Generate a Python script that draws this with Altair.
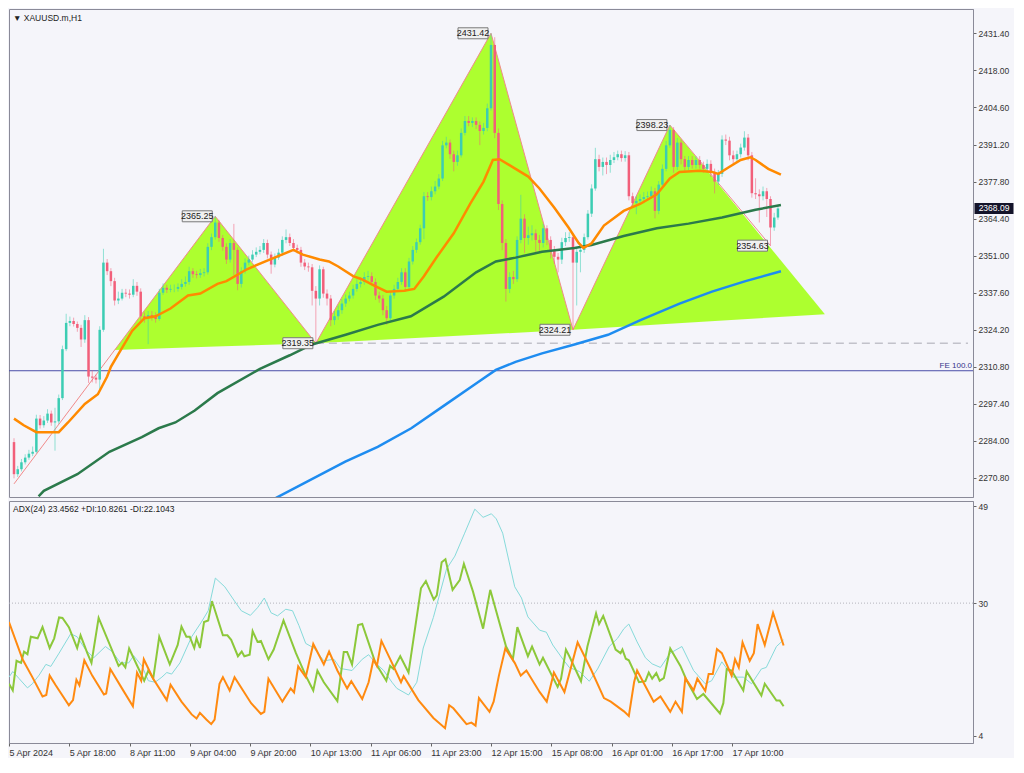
import altair as alt
import pandas as pd

# ---------------- price data (XAUUSD H1) ----------------
first_open = 2283.6
closes = [
    2272.0, 2273.8, 2276.3, 2278.0, 2279.4, 2280.1, 2292.1, 2289.7, 2291.4, 2293.9,
    2290.7, 2291.1, 2299.5, 2317.2, 2326.7, 2327.4, 2326.3, 2324.9, 2320.7, 2327.7,
    2307.3, 2306.9, 2306.2, 2324.2, 2348.5, 2345.4, 2341.8, 2334.8, 2335.5, 2337.6,
    2337.3, 2336.9, 2340.1, 2338.0, 2329.1, 2328.4, 2329.5, 2329.1, 2328.1, 2337.6,
    2339.4, 2338.7, 2339.0, 2339.0, 2339.7, 2340.8, 2341.5, 2345.4, 2344.3, 2344.0,
    2344.7, 2345.0, 2354.2, 2357.7, 2363.0, 2357.4, 2354.2, 2349.6, 2355.6, 2353.1,
    2340.8, 2345.4, 2348.5, 2349.6, 2351.4, 2352.4, 2353.1, 2355.6, 2351.4, 2347.8,
    2350.3, 2352.1, 2356.7, 2357.7, 2355.6, 2353.8, 2353.1, 2348.5, 2347.1, 2346.8,
    2338.3, 2335.5, 2346.1, 2337.3, 2335.5, 2327.7, 2329.1, 2331.3, 2333.7, 2335.5,
    2336.6, 2339.0, 2340.8, 2341.5, 2343.3, 2343.6, 2341.5, 2336.6, 2335.5, 2331.3,
    2328.4, 2336.6, 2339.0, 2341.5, 2345.0, 2339.7, 2348.9, 2353.1, 2355.9, 2360.9,
    2372.5, 2372.2, 2374.3, 2376.0, 2378.9, 2390.9, 2391.9, 2387.7, 2384.9, 2387.3,
    2395.4, 2399.7, 2399.0, 2399.7, 2398.3, 2396.1, 2397.2, 2404.3, 2427.2, 2395.4,
    2369.7, 2355.6, 2339.0, 2343.3, 2342.5, 2356.7, 2364.4, 2357.4, 2358.4, 2359.1,
    2356.7, 2355.6, 2360.9, 2356.7, 2353.1, 2350.6, 2349.6, 2355.9, 2357.4, 2357.7,
    2348.5, 2352.4, 2353.1, 2357.7, 2366.2, 2375.3, 2385.9, 2383.1, 2384.9, 2383.8,
    2385.6, 2386.6, 2387.7, 2386.3, 2387.3, 2372.5, 2370.0, 2370.8, 2371.5, 2372.2,
    2372.5, 2374.3, 2367.2, 2376.7, 2382.4, 2390.9, 2396.5, 2383.1, 2391.9, 2385.9,
    2383.1, 2385.6, 2383.8, 2385.6, 2383.8, 2382.4, 2384.2, 2381.3, 2377.8, 2380.6,
    2393.0, 2392.6, 2387.3, 2385.9, 2387.7, 2390.1, 2393.7, 2387.3, 2373.6, 2373.2,
    2372.5, 2374.3, 2371.5, 2361.2, 2364.8, 2368.09,
]
highs = [
    2285.0, 2275.0, 2277.5, 2279.2, 2280.8, 2282.0, 2293.5, 2293.4, 2293.0, 2295.5,
    2295.0, 2296.0, 2300.8, 2318.5, 2330.0, 2329.0, 2328.6, 2327.2, 2326.0, 2329.5,
    2328.8, 2309.5, 2308.0, 2325.5, 2353.5, 2349.8, 2346.5, 2343.0, 2338.0, 2339.0,
    2339.0, 2338.8, 2342.5, 2341.5, 2339.2, 2330.5, 2331.0, 2331.0, 2330.5, 2339.0,
    2341.0, 2340.5, 2340.5, 2340.6, 2341.0, 2342.5, 2343.5, 2347.0, 2346.5, 2345.5,
    2346.2, 2346.5, 2355.5, 2359.0, 2365.25, 2364.0, 2358.5, 2355.5, 2357.0, 2362.5,
    2354.0, 2346.8, 2350.0, 2351.0, 2353.0, 2354.0, 2354.5, 2357.0, 2356.8, 2352.5,
    2351.8, 2353.5, 2358.0, 2360.5, 2359.0, 2357.0, 2355.0, 2354.2, 2349.8, 2348.5,
    2348.0, 2340.0, 2347.5, 2347.0, 2338.8, 2336.8, 2331.0, 2333.0, 2335.2, 2337.0,
    2338.0, 2340.5, 2342.5, 2343.2, 2345.0, 2345.5, 2345.0, 2342.8, 2338.0, 2336.8,
    2332.8, 2338.0, 2340.5, 2343.0, 2346.5, 2346.5, 2350.2, 2354.5, 2357.2, 2362.2,
    2374.0, 2374.0, 2376.0, 2378.0, 2380.5, 2392.5, 2394.0, 2393.0, 2389.0, 2389.0,
    2397.0, 2401.5, 2401.5, 2401.0, 2401.0, 2399.5, 2399.0, 2406.0, 2431.42, 2430.0,
    2397.0, 2371.0, 2357.0, 2345.0, 2345.5, 2358.0, 2373.0, 2366.0, 2361.5, 2362.0,
    2360.5, 2358.5, 2362.5, 2362.0, 2358.0, 2354.5, 2352.0, 2357.5, 2359.5, 2359.5,
    2359.0, 2354.0, 2355.0, 2359.0, 2367.5, 2376.8, 2390.0, 2387.5, 2386.5, 2386.5,
    2387.5, 2388.5, 2389.0, 2389.0, 2388.8, 2388.5, 2373.8, 2372.5, 2373.2, 2374.0,
    2374.2, 2376.0, 2375.5, 2378.0, 2384.0, 2392.5, 2398.23, 2397.5, 2393.5, 2393.0,
    2387.0, 2387.0, 2387.0, 2387.0, 2387.0, 2385.0, 2385.8, 2385.5, 2382.5, 2382.0,
    2394.5, 2394.8, 2394.0, 2389.0, 2389.0, 2391.5, 2396.0, 2395.0, 2388.5, 2379.0,
    2375.0, 2376.0, 2375.5, 2372.5, 2366.5, 2369.0,
]
lows = [
    2270.5, 2271.0, 2273.0, 2275.5, 2277.2, 2278.5, 2279.5, 2288.5, 2288.8, 2290.5,
    2289.5, 2280.5, 2290.2, 2298.8, 2316.5, 2325.5, 2325.4, 2323.5, 2318.0, 2319.5,
    2305.0, 2305.2, 2304.8, 2302.8, 2323.5, 2344.0, 2340.0, 2333.0, 2333.5, 2334.8,
    2336.0, 2335.5, 2336.0, 2336.5, 2327.5, 2326.8, 2319.0, 2327.5, 2326.8, 2327.5,
    2336.8, 2337.5, 2337.8, 2337.8, 2338.0, 2338.8, 2339.8, 2340.5, 2343.0, 2342.8,
    2343.0, 2343.5, 2344.2, 2353.0, 2356.8, 2356.0, 2352.8, 2348.0, 2348.5, 2344.0,
    2338.5, 2339.5, 2344.5, 2347.5, 2348.8, 2350.5, 2351.5, 2352.0, 2350.0, 2344.5,
    2346.8, 2349.5, 2351.0, 2355.5, 2354.5, 2352.5, 2351.8, 2347.0, 2345.8, 2345.2,
    2333.0, 2319.35, 2333.0, 2335.8, 2333.0, 2325.5, 2326.0, 2327.8, 2330.0, 2332.5,
    2334.5, 2335.5, 2338.0, 2339.5, 2340.5, 2342.0, 2340.2, 2335.0, 2334.0, 2329.5,
    2326.0, 2327.5, 2335.5, 2338.0, 2340.5, 2338.0, 2338.8, 2347.8, 2352.0, 2355.0,
    2357.0, 2370.8, 2371.0, 2373.2, 2375.0, 2378.0, 2389.8, 2386.0, 2381.5, 2383.5,
    2386.5, 2394.5, 2397.8, 2397.5, 2396.8, 2391.0, 2394.8, 2396.0, 2403.5, 2393.5,
    2367.5, 2353.0, 2334.4, 2337.5, 2340.8, 2341.5, 2355.5, 2352.0, 2355.0, 2356.5,
    2352.0, 2352.5, 2354.0, 2354.8, 2350.0, 2348.0, 2345.0, 2348.0, 2354.5, 2356.0,
    2324.21, 2333.0, 2345.0, 2352.0, 2356.8, 2365.0, 2374.5, 2381.5, 2380.0, 2380.5,
    2381.0, 2384.5, 2385.5, 2385.0, 2385.0, 2371.0, 2368.5, 2366.0, 2369.5, 2370.0,
    2370.8, 2371.5, 2364.5, 2366.0, 2375.5, 2381.5, 2390.0, 2381.0, 2382.0, 2384.0,
    2381.5, 2382.0, 2382.5, 2382.5, 2382.5, 2381.0, 2381.0, 2379.5, 2373.5, 2376.5,
    2379.5, 2391.0, 2385.5, 2384.0, 2384.5, 2386.5, 2389.0, 2385.5, 2372.0, 2371.5,
    2363.0, 2371.0, 2365.0, 2354.63, 2360.0, 2364.0,
]

# moving averages (bar, price)
ma_orange = [(0, 2292.1), (2.6, 2289.7), (6, 2287.2), (12, 2287.2), (14.5, 2290.7), (19, 2297.4),
             (22.5, 2300.9), (25, 2307.3), (26, 2310.8), (28, 2315.4), (31.7, 2323.8), (35, 2328.4),
             (38, 2329.1), (42, 2331.9), (46.7, 2336.6), (50, 2337.3), (54.6, 2340.8), (57, 2341.8),
             (62.5, 2346.1), (68.6, 2349.6), (75, 2353.1), (77.5, 2351.4), (82, 2349.6), (84.5, 2348.9),
             (87, 2347.1), (91, 2343.6), (93.3, 2342.5), (96.8, 2340.1), (100, 2338.0), (104.7, 2338.3),
             (107.4, 2339.0), (110, 2343.6), (113.5, 2350.6), (118, 2359.1), (122.4, 2369.7), (126, 2377.8),
             (128.5, 2385.6), (130.3, 2385.9), (134.6, 2382.4), (138, 2379.6), (141, 2375.3), (145, 2368.3),
             (148.8, 2361.2), (151.5, 2355.6), (152.8, 2353.8), (155, 2355.5), (158.3, 2361.9),
             (163.6, 2367.2), (168, 2369.7), (172.5, 2373.2), (176, 2378.9), (178.6, 2381.3), (184, 2381.7),
             (187.3, 2381.3), (189, 2380.6), (191.8, 2383.0), (195, 2385.6), (197.6, 2386.6), (199, 2385.6),
             (202.4, 2382.4), (205.8, 2380.3)]
ma_green = [(6.6, 2264.0), (8, 2266.0), (17, 2272.0), (25.6, 2280.1), (34.3, 2285.4), (38.8, 2288.6),
            (43.3, 2290.7), (48.5, 2295.0), (54.6, 2301.3), (66, 2310.1), (74, 2315.0), (80, 2318.9),
            (89, 2322.4), (97.6, 2326.0), (106.5, 2329.1), (115.3, 2336.2), (124, 2345.0), (129.3, 2348.9),
            (134.6, 2350.3), (141.7, 2352.4), (150.4, 2353.8), (155, 2354.9), (163.6, 2358.1),
            (172.5, 2360.9), (181, 2362.6), (190, 2364.8), (199, 2367.6), (205.8, 2369.3)]
ma_blue = [(69.7, 2263.0), (88.9, 2276.5), (97.6, 2281.9), (106.6, 2288.6), (115.3, 2296.7), (124.0, 2304.8),
           (129.3, 2309.7), (134.6, 2312.6), (141.7, 2315.7), (150.4, 2318.9), (159.4, 2322.4),
           (168.1, 2327.7), (178.6, 2333.7), (187.3, 2338.0), (196.3, 2341.8), (205.8, 2345.4)]

# harmonic pattern zigzag and triangles (bar, price)
zigzag = [(0, 2268.5), (54, 2365.25), (81, 2319.35), (128, 2431.42), (150, 2324.21), (176, 2398.23), (203, 2354.63)]
triangles = [
    [(27, 2316.9), (54, 2365.25), (81, 2319.35)],
    [(81, 2319.35), (128, 2431.42), (150, 2324.21)],
    [(150, 2324.21), (176, 2398.23), (217.6, 2329.85)],
]
swing_labels = [(54, 2365.25, "2365.25"), (81, 2319.35, "2319.35"), (128, 2431.42, "2431.42"),
                (150, 2324.21, "2324.21"), (176, 2398.23, "2398.23"), (203, 2354.63, "2354.63")]
level_dashed = 2319.35
level_fe = 2309.4
last_price = 2368.09

price_ticks = [2431.4, 2418.0, 2404.6, 2391.2, 2377.8, 2364.4, 2351.0, 2337.6, 2324.2, 2310.8, 2297.4, 2284.0, 2270.8]
x_labels = ["5 Apr 2024", "5 Apr 18:00", "8 Apr 11:00", "9 Apr 04:00", "9 Apr 20:00", "10 Apr 13:00",
            "11 Apr 06:00", "11 Apr 23:00", "12 Apr 15:00", "15 Apr 08:00", "16 Apr 01:00",
            "16 Apr 17:00", "17 Apr 10:00"]

# ---------------- ADX(24) ----------------
adx = [(0, 15.5), (1.0, 16.6), (2.7, 15.2), (4.9, 13.4), (6.2, 14.2), (8.0, 15.9), (9.8, 18.0), (11.1, 17.6),
       (13.3, 20.2), (16.4, 24.0), (18.1, 23.4), (20.3, 20.9), (22.5, 19.3), (25.6, 21.5), (27.4, 20.5),
       (29.6, 18.3), (31.8, 18.3), (33.1, 19.7), (35.3, 17.7), (37.0, 14.8), (38.8, 14.5), (40.6, 15.5),
       (41.9, 16.4), (43.2, 16.1), (45.4, 18.3), (48.5, 23.4), (51.1, 26.3), (52.9, 28.5), (54.8, 34.9),
       (57.3, 33.2), (59.9, 30.4), (61.7, 28.5), (64.1, 27.6), (66.0, 29.1), (67.8, 31.0), (69.6, 28.1),
       (71.3, 27.5), (73.5, 28.8), (75.3, 28.5), (77.0, 25.6), (78.8, 22.1), (81.0, 21.2), (83.6, 18.7),
       (86.3, 19.0), (88.0, 17.2), (91.1, 16.8), (93.8, 19.0), (95.5, 19.9), (97.3, 18.3), (99.5, 16.8),
       (101.7, 14.5), (103.0, 13.3), (106.1, 12.0), (108.3, 14.5), (110.0, 21.2), (112.7, 27.2),
       (116.2, 36.7), (118.4, 39.2), (121.0, 43.7), (123.7, 48.4), (125.9, 46.8), (128.1, 47.5),
       (129.4, 46.5), (131.1, 43.7), (134.3, 33.2), (136.1, 31.0), (137.8, 27.3), (140.9, 24.7),
       (142.7, 24.3), (144.4, 21.8), (147.1, 19.0), (148.8, 17.4), (151.5, 16.6), (154.1, 14.7),
       (156.3, 17.1), (159.4, 21.5), (161.6, 23.1), (163.3, 25.0), (164.6, 25.9), (166.8, 22.4),
       (169.0, 19.3), (170.8, 18.1), (173.0, 17.4), (175.6, 20.2), (178.7, 21.5), (181.8, 16.8),
       (184.9, 14.2), (186.6, 14.8), (189.3, 18.5), (192.3, 15.5), (195.0, 15.5), (197.2, 14.2),
       (199.8, 17.1), (201.1, 17.4), (203.8, 21.5), (205.7, 22.8)]
plus_di = [(0, 14.2), (1.0, 12.9), (2.0, 18.7), (3.2, 18.3), (4.0, 20.5), (4.9, 20.0), (5.8, 23.4), (7.6, 23.1),
           (8.9, 25.3), (10.8, 21.2), (12.0, 23.1), (13.3, 27.2), (14.2, 27.1), (15.9, 25.3), (18.1, 21.2),
           (19.0, 23.7), (20.8, 20.2), (21.9, 18.3), (23.8, 27.1), (29.1, 17.7), (30.0, 18.3), (30.9, 17.4),
           (31.9, 21.1), (35.9, 14.8), (37.0, 16.8), (38.3, 15.2), (39.9, 23.4), (42.7, 18.0), (44.8, 21.8),
           (45.8, 25.4), (47.1, 23.4), (48.0, 23.4), (49.2, 21.2), (49.8, 23.1), (50.7, 21.2), (51.8, 26.3),
           (52.9, 26.6), (53.9, 30.4), (56.8, 23.7), (58.0, 23.7), (59.0, 22.8), (60.8, 19.6), (61.8, 20.5),
           (62.5, 19.6), (63.9, 19.9), (64.7, 24.5), (66.0, 22.4), (66.9, 22.6), (68.9, 19.0), (70.3, 20.9),
           (72.9, 26.6), (76.2, 20.2), (78.8, 15.8), (80.8, 12.9), (81.9, 16.8), (83.6, 14.5), (87.2, 10.8),
           (88.9, 20.4), (89.8, 20.4), (91.1, 18.0), (92.7, 25.7), (93.8, 25.9), (97.3, 18.3), (100.2, 14.8),
           (101.2, 17.7), (102.1, 17.1), (103.9, 19.6), (106.1, 16.4), (109.4, 32.9), (110.7, 34.3),
           (112.8, 30.7), (113.6, 31.5), (114.9, 38.0), (115.9, 38.6), (117.8, 32.6), (119.7, 34.5),
           (120.8, 37.7), (123.2, 32.3), (125.9, 25.0), (127.8, 32.6), (132.0, 21.5), (133.8, 19.0),
           (134.3, 21.5), (135.0, 25.3), (137.8, 19.6), (138.9, 21.5), (140.9, 18.0), (141.8, 19.3),
           (145.7, 13.6), (146.6, 15.2), (147.9, 20.9), (148.8, 19.6), (151.9, 14.7), (153.6, 21.5),
           (155.9, 28.0), (156.7, 25.9), (157.8, 27.5), (161.1, 20.9), (162.4, 20.2), (162.9, 20.9),
           (163.8, 19.1), (164.6, 18.8), (167.3, 14.5), (169.0, 14.7), (169.9, 16.4), (170.8, 15.2),
           (171.9, 16.3), (172.8, 14.8), (173.9, 15.3), (175.6, 21.1), (178.3, 17.7), (180.0, 14.8),
           (182.7, 11.2), (184.4, 12.2), (188.8, 8.4), (189.7, 10.4), (190.6, 17.1), (191.9, 16.8),
           (195.0, 12.9), (195.9, 16.6), (199.8, 11.9), (200.7, 14.2), (203.8, 10.9), (204.7, 10.9),
           (205.7, 9.8)]
minus_di = [(0, 26.3), (3.6, 19.0), (6.2, 15.5), (8.9, 11.7), (9.9, 12.0), (10.8, 15.8), (12.4, 13.9),
            (15.9, 10.0), (17.0, 11.0), (17.9, 15.0), (18.7, 13.9), (20.0, 18.8), (22.1, 15.8), (25.2, 12.1),
            (25.8, 12.3), (26.9, 17.1), (30.0, 13.3), (32.9, 9.8), (34.0, 16.4), (35.1, 14.8), (35.8, 19.0),
            (38.3, 15.2), (41.9, 11.0), (42.9, 14.0), (45.8, 10.7), (48.5, 8.2), (49.8, 7.4), (50.7, 8.5),
            (52.4, 7.2), (53.7, 6.3), (54.6, 7.2), (55.9, 14.2), (56.8, 15.5), (58.6, 12.9), (59.9, 15.5),
            (64.3, 10.4), (66.9, 8.3), (67.8, 8.7), (68.9, 15.2), (72.6, 10.7), (74.8, 13.3), (75.7, 12.5),
            (76.8, 17.6), (78.8, 15.5), (80.8, 22.0), (83.6, 18.0), (85.0, 20.5), (87.2, 16.8), (89.8, 13.3),
            (90.9, 14.7), (93.8, 11.2), (95.5, 14.5), (96.8, 19.0), (97.7, 17.7), (98.9, 22.6), (101.7, 18.3),
            (104.1, 14.5), (104.8, 15.7), (108.7, 11.0), (112.7, 7.5), (115.8, 5.5), (116.9, 10.0),
            (118.0, 9.4), (121.5, 6.3), (122.8, 6.6), (123.9, 6.0), (124.8, 11.4), (127.6, 8.7), (128.7, 10.7),
            (130.1, 15.8), (131.8, 21.1), (134.3, 18.3), (135.9, 15.8), (137.4, 16.8), (140.9, 12.6),
            (142.8, 10.7), (144.7, 16.4), (147.5, 12.6), (151.0, 22.3), (154.5, 17.1), (158.0, 11.4),
            (159.8, 10.7), (163.3, 8.8), (164.6, 7.9), (166.0, 14.5), (166.8, 16.8), (171.2, 10.7),
            (173.0, 11.7), (175.6, 8.7), (177.0, 10.7), (178.7, 8.7), (179.6, 15.3), (181.8, 12.9),
            (182.8, 15.2), (184.9, 12.8), (185.8, 16.1), (186.9, 16.1), (188.0, 21.0), (189.3, 20.2),
            (191.9, 15.8), (192.8, 19.0), (193.8, 17.4), (194.8, 22.3), (196.7, 18.7), (197.8, 20.2),
            (198.8, 25.9), (200.7, 21.8), (202.9, 28.1), (204.7, 24.0), (205.7, 21.7)]
adx_ticks = [49, 30, 4]
adx_title = "ADX(24) 23.4562 +DI:10.8261 -DI:22.1043"

# ---------------- styling ----------------
W, H1, H2 = 964, 488, 242
BG = "#f5f5fa"
UP, DN = "#3ccdb3", "#f25f7a"
FONT = "Liberation Sans"

X = alt.Scale(domain=[0, 256], nice=False, zero=False)
YP = alt.Scale(domain=[2263.75, 2440.2], nice=False, zero=False)
YA = alt.Scale(domain=[2.6, 50.0], nice=False, zero=False)

price_axis = alt.Axis(orient="right", values=price_ticks, format=".2f", title=None, grid=False,
                      tickSize=3, tickColor="#666", domainColor="#8a8a98", labelFontSize=8.5,
                      labelColor="#333", labelFont=FONT, labelPadding=2)
adx_axis = alt.Axis(orient="right", values=adx_ticks, format="d", title=None, grid=False,
                    tickSize=3, tickColor="#666", domainColor="#8a8a98", labelFontSize=8.5,
                    labelColor="#333", labelFont=FONT, labelPadding=2)
label_expr = "[" + ",".join("'" + s + "'" for s in x_labels) + "][round(datum.value/16)]"
time_axis = alt.Axis(values=list(range(0, 16 * len(x_labels), 16)), labelExpr=label_expr, title=None,
                     grid=False, labelAlign="left", labelFontSize=9, labelColor="#333", labelFont=FONT,
                     tickSize=3, tickColor="#666", domain=False, labelPadding=2, labelOverlap=False,
                     labelFlush=False)

# ---------------- data frames ----------------
n = len(closes)
candles = pd.DataFrame({"bar": list(range(n)), "open": [first_open] + closes[:-1],
                        "close": closes, "high": highs, "low": lows})

tri_rows = []
for k, (a, p, b) in enumerate(triangles):
    base_at_p = a[1] + (p[0] - a[0]) / (b[0] - a[0]) * (b[1] - a[1])
    tri_rows += [{"tri": k, "bar": a[0], "top": a[1], "bot": a[1]},
                 {"tri": k, "bar": p[0], "top": p[1], "bot": base_at_p},
                 {"tri": k, "bar": b[0], "top": b[1], "bot": b[1]}]
tri_df = pd.DataFrame(tri_rows)


def pairs(lst):
    return pd.DataFrame(lst, columns=["bar", "v"])


up_down = alt.condition("datum.close >= datum.open", alt.value(UP), alt.value(DN))
xq = alt.X("bar:Q", scale=X, axis=None, title=None)


def yp(field):
    return alt.Y(field, scale=YP, axis=price_axis, title=None)


def ya(field):
    return alt.Y(field, scale=YA, axis=adx_axis, title=None)


def xb(field="bar:Q"):
    return alt.X(field, scale=X, axis=time_axis, title=None)


areas = alt.Chart(tri_df).mark_area(color="#adff2f", opacity=1, orient="vertical", clip=True).encode(
    x=xq, y=yp("top:Q"), y2="bot:Q", detail="tri:N")
fe_line = alt.Chart(pd.DataFrame({"y": [level_fe]})).mark_rule(color="#4a4ea8", strokeWidth=1).encode(
    y=yp("y:Q"))
fe_text = alt.Chart(pd.DataFrame({"y": [level_fe], "t": ["FE 100.0"]})).mark_text(
    align="right", baseline="bottom", dy=-1, fontSize=8, font=FONT, color="#34348a").encode(
    x=alt.value(W - 1), y=yp("y:Q"), text="t:N")
dash = alt.Chart(pd.DataFrame({"x1": [81], "x2": [256], "y": [level_dashed]})).mark_rule(
    color="#c2c2ca", strokeWidth=1.5, strokeDash=[8, 5]).encode(
    x=alt.X("x1:Q", scale=X, axis=None, title=None), x2="x2:Q", y=yp("y:Q"))
zz = alt.Chart(pairs(zigzag)).mark_line(color="#f08a8a", strokeWidth=1, clip=True).encode(
    x=xq, y=yp("v:Q"))
wicks = alt.Chart(candles).mark_rule(strokeWidth=1, opacity=0.55).encode(
    x=xq, y=yp("low:Q"), y2="high:Q", color=up_down)
bodies = alt.Chart(candles).mark_bar(width=2.5).encode(
    x=xq, y=yp("open:Q"), y2="close:Q", color=up_down)


def ma(lst, color):
    return alt.Chart(pairs(lst)).mark_line(color=color, strokeWidth=2.5, clip=True).encode(
        x=xq, y=yp("v:Q"))


lbl_df = pd.DataFrame(swing_labels, columns=["bar", "v", "t"])
lbl_box = alt.Chart(lbl_df).mark_point(
    shape="M-3.3,-0.55L-0.3,-0.55L-0.3,0.55L-3.3,0.55Z", size=400, filled=True, fill="#f0f0f0",
    stroke="#7a7a7a", strokeWidth=1, opacity=1).encode(x=xq, y=yp("v:Q"))
lbl_txt = alt.Chart(lbl_df).mark_text(dx=-18, fontSize=9, font=FONT, color="#222").encode(
    x=xq, y=yp("v:Q"), text="t:N")

last_df = pd.DataFrame({"v": [last_price], "t": ["%.2f" % last_price]})
last_box = alt.Chart(last_df).mark_point(
    shape="M-1.95,-0.55L1.95,-0.55L1.95,0.55L-1.95,0.55Z", size=400, filled=True, fill="#14142a",
    opacity=1).encode(x=alt.value(W + 21), y=yp("v:Q"))
last_txt = alt.Chart(last_df).mark_text(fontSize=8.5, font=FONT, color="white").encode(
    x=alt.value(W + 21), y=yp("v:Q"), text="t:N")
title_txt = alt.Chart(pd.DataFrame({"t": ["\u25BC XAUUSD.m,H1"]})).mark_text(
    align="left", baseline="top", fontSize=8.5, font=FONT, color="#222").encode(
    x=alt.value(4), y=alt.value(5), text="t:N")

top = alt.layer(areas, fe_line, dash, zz, wicks, bodies,
                ma(ma_blue, "#1e8cf0"), ma(ma_green, "#2b7a4b"), ma(ma_orange, "#ff8a00"),
                fe_text, lbl_box, lbl_txt, last_box, last_txt, title_txt).properties(width=W, height=H1)

lvl30 = alt.Chart(pd.DataFrame({"v": [30]})).mark_rule(color="#b4b4bc", strokeWidth=1, strokeDash=[1, 2]).encode(
    y=ya("v:Q"))
adx_line = alt.Chart(pairs(adx)).mark_line(color="#86dada", strokeWidth=1, clip=True).encode(
    x=xb(), y=ya("v:Q"))
pdi_line = alt.Chart(pairs(plus_di)).mark_line(color="#8cc83a", strokeWidth=2, clip=True).encode(
    x=xb(), y=ya("v:Q"))
mdi_line = alt.Chart(pairs(minus_di)).mark_line(color="#ff8a10", strokeWidth=2, clip=True).encode(
    x=xb(), y=ya("v:Q"))
adx_txt = alt.Chart(pd.DataFrame({"t": [adx_title]})).mark_text(
    align="left", baseline="top", fontSize=8.5, font=FONT, color="#222").encode(
    x=alt.value(4), y=alt.value(4), text="t:N")

bottom = alt.layer(adx_line, pdi_line, mdi_line, lvl30, adx_txt).properties(width=W, height=H2)

chart = alt.vconcat(top, bottom, spacing=2).properties(
    background=BG, padding={"left": 0, "top": 0, "right": 0, "bottom": 0}
).configure_view(stroke="#8a8a98", fill=BG)

chart.save("out.html", embed_options={"renderer": "svg", "actions": False})
